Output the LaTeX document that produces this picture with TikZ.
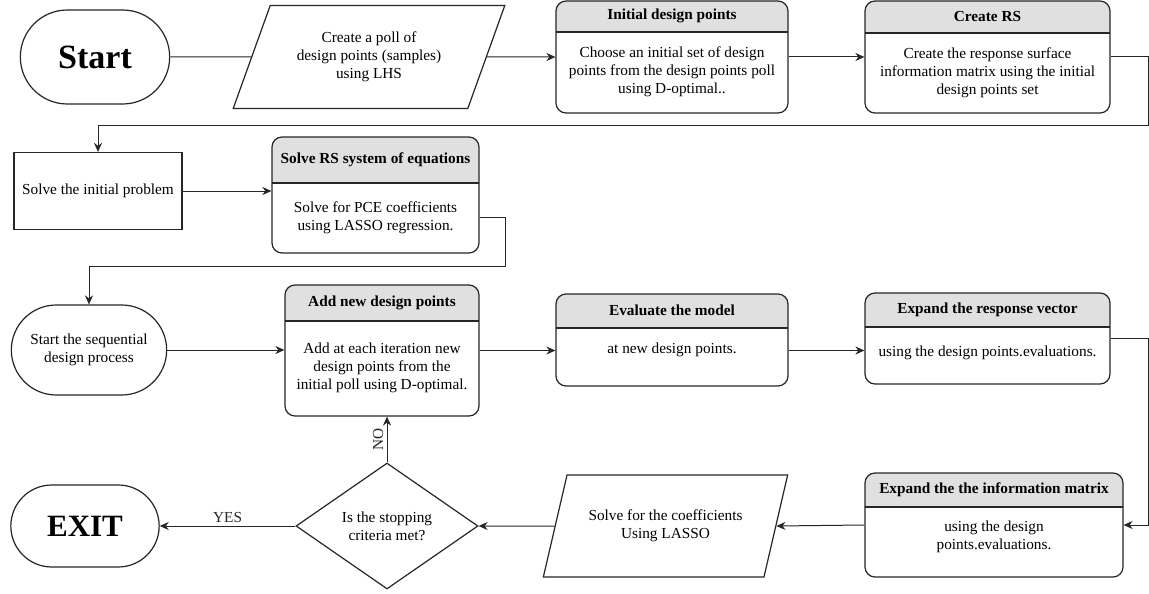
\documentclass[tikz,border=0pt]{standalone}
\usepackage{fontspec}
\setmainfont{Liberation Serif}
\usetikzlibrary{arrows.meta,positioning,shapes.geometric,shapes.misc}

\begin{document}
\begin{tikzpicture}[
  x=1pt, y=-1pt,
  font=\fontsize{15.3}{18}\selectfont,
  term/.style={rounded rectangle, draw=black!85, line width=1.2pt, align=center},
  io/.style={trapezium, trapezium left angle=63.5, trapezium right angle=116.5,
             trapezium stretches, draw=black!85, line width=1.2pt, align=center,
             minimum height=103pt},
  proc/.style={draw=black!85, line width=1.2pt, align=center},
  hh/.store in=\hdrh, hh=31pt,
  blk/.style={draw=black!85, line width=1.2pt, rounded corners=10pt, fill=white,
    path picture={
      \fill[black!12, sharp corners] (path picture bounding box.north west)
        rectangle ([yshift=-\hdrh]path picture bounding box.north east);
      \draw[sharp corners] ([yshift=-\hdrh]path picture bounding box.north west)
        -- ([yshift=-\hdrh]path picture bounding box.north east);}},
  ttl/.style={font=\bfseries\fontsize{15.3}{18}\selectfont, inner sep=1pt},
  txt/.style={align=center, inner sep=1pt},
  dec/.style={diamond, draw=black!85, line width=1.2pt, align=center, aspect=1.44,
              minimum width=182pt, minimum height=126pt, inner sep=0pt},
  conn/.style={black!85, line width=1pt},
  arr/.style={conn, -{Stealth[length=9pt, width=8pt]}}
]
\path[use as bounding box, fill=white] (0,0) rectangle (1149,594);
% --- first row ---
\node[term, minimum width=156pt, minimum height=94pt,
      font=\bfseries\fontsize{34}{40}\selectfont] (start) at (95,57) {Start};
\node[io, minimum width=272pt] (poll) at (369,57) {Create a poll of\\design points (samples)\\using LHS};
\node[blk, minimum width=232pt, minimum height=112pt] (init) at (672,57) {};
\node[ttl, minimum height=31pt, below=0pt of init.north] {Initial design points};
\node[txt, minimum height=81pt, below=31pt of init.north] (init-b) {Choose an initial set of design\\
  points from the design points poll\\using D-optimal..};
\node[blk, hh=32pt, minimum width=245pt, minimum height=112pt] (crs) at (987.5,57) {};
\node[ttl, minimum height=32pt, below=0pt of crs.north] {Create RS};
\node[txt, minimum height=80pt, below=32pt of crs.north] (crs-b) {Create the response surface\\
  information matrix using the initial\\design points set};
% --- second row ---
\node[proc, minimum width=168pt, minimum height=77pt] (sinit) at (98,191) {Solve the initial problem};
\node[blk, hh=46pt, minimum width=207pt, minimum height=116pt] (srs) at (375.5,195) {};
\node[ttl, minimum height=46pt, below=0pt of srs.north] {Solve RS system of equations};
\node[txt, minimum height=70pt, below=46pt of srs.north] (srs-b) {Solve for PCE coefficients\\
  using LASSO regression.};
% --- third row ---
\node[term, minimum width=162pt, minimum height=90pt] (sseq) at (89,350) {Start the sequential\\design process};
\node[blk, hh=36pt, minimum width=194pt, minimum height=131pt] (addp) at (382,350.5) {};
\node[ttl, minimum height=36pt, below=0pt of addp.north] {Add new design points};
\node[txt, minimum height=95pt, below=36pt of addp.north] (addp-b) {Add at each iteration new\\
  design points from the\\initial poll using D-optimal.};
\node[blk, hh=34pt, minimum width=232pt, minimum height=92pt] (evalm) at (672,340) {};
\node[ttl, minimum height=34pt, below=0pt of evalm.north] {Evaluate the model};
\node[txt, minimum height=44pt, below=34pt of evalm.north] (evalm-b) {at new design points.};
\node[blk, hh=34pt, minimum width=245pt, minimum height=91pt] (expv) at (987.5,338.5) {};
\node[ttl, minimum height=34pt, below=0pt of expv.north] {Expand the response vector};
\node[txt, minimum height=52pt, below=34pt of expv.north] (expv-b) {using the design points.evaluations.};
% --- fourth row ---
\node[term, minimum width=155pt, minimum height=82pt,
      font=\bfseries\fontsize{31}{36}\selectfont] (exit) at (85,526) {EXIT};
\node[dec] (stop) at (387,526) {Is the stopping\\criteria met?};
\node[io, minimum width=245pt, minimum height=102pt] (solc) at (665.5,526) {Solve for the coefficients\\Using LASSO};
\node[blk, hh=34pt, minimum width=258pt, minimum height=104pt] (expm) at (994,525) {};
\node[ttl, minimum height=34pt, below=0pt of expm.north] {Expand the the information matrix};
\node[txt, minimum height=60pt, below=34pt of expm.north] (expm-b) {using the design\\points.evaluations.};
% --- connectors ---
\draw[conn] (start) -- (poll);
\draw[arr] (poll.east) -- (init.west);
\draw[arr] (init.east) -- (crs.west);
\draw[arr] (crs.east) -- ++(38,0) |- ([yshift=26pt]sinit.north) -- (sinit.north);
\draw[arr] (sinit.east) -- (sinit.east -| srs.west);
\draw[arr] (srs-b -| srs.east) -- ++(26,0) |- ([yshift=38pt]sseq.north) -- (sseq.north);
\draw[arr] (sseq.east) -- (sseq.east -| addp.west);
\draw[arr] (addp.east) -- (addp.east -| evalm.west);
\draw[arr] (addp.east -| evalm.east) -- (addp.east -| expv.west);
\draw[arr] (expv.east) -- ++(38,0) |- (expm.east);
\draw[arr] (expm.west) -- (solc.east);
\draw[arr] (solc.west) -- (stop.east);
\draw[arr] (stop.west) -- node[above] {YES} (exit.east);
\draw[arr] (stop.north) -- (stop.north |- addp.south) node[midway, above, rotate=90] {NO};
\end{tikzpicture}
\end{document}
